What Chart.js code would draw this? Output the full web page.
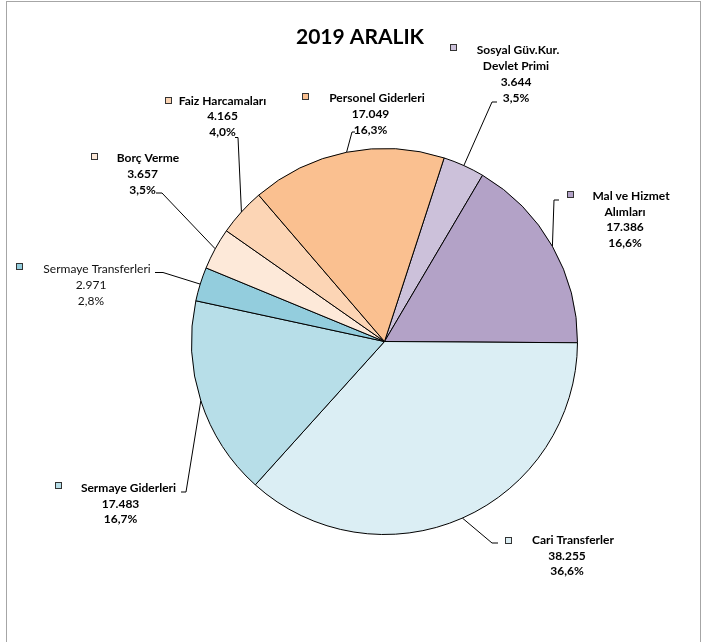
<!DOCTYPE html>
<html><head><meta charset="utf-8">
<script src="https://cdn.jsdelivr.net/npm/chart.js@4.4.1/dist/chart.umd.min.js"></script>
<style>html,body{margin:0;padding:0;background:#fff;}canvas{display:block;}</style>
</head><body>
<canvas id="c" width="706" height="642"></canvas>
<script>
const chartTitle = '2019 ARALIK';
const categories = ['Sosyal Güv.Kur. Devlet Primi','Mal ve Hizmet Alımları','Cari Transferler','Sermaye Giderleri','Sermaye Transferleri','Borç Verme','Faiz Harcamaları','Personel Giderleri'];
const nameLines = [['Sosyal Güv.Kur.','Devlet Primi'],['Mal ve Hizmet','Alımları'],['Cari Transferler'],['Sermaye Giderleri'],['Sermaye Transferleri'],['Borç Verme'],['Faiz Harcamaları'],['Personel Giderleri']];
const values = [3644, 17386, 38255, 17483, 2971, 3657, 4165, 17049];
const valueLabels = ['3.644','17.386','38.255','17.483','2.971','3.657','4.165','17.049'];
const percentLabels = ['3,5%','16,6%','36,6%','16,7%','2,8%','3,5%','4,0%','16,3%'];
const colors = ['#ccc1da','#b3a2c7','#dbeef4','#b7dee8','#93cddd','#fde9d9','#fcd5b5','#fac090'];

// label placement (layout only)
const labelLayout = [
  {x1:518, x:516, y0:50.5, key:[453.5,47], path:[[497,102],[492,102]], bold:true},
  {x1:631, x:625, y0:196, key:[570,194.5], path:[[559,200],[554,200]], bold:true},
  {x1:573, x:567, y0:540, key:[508.5,540], path:[[498,543],[492,543]], bold:true},
  {x1:128.5, x:120.5, y0:488, key:[58.5,485.5], path:[[181,492],[186,492]], bold:true},
  {x1:97, x:91, y0:269.5, key:[19.5,266.5], path:[[155,272.5],[163,272.5]], bold:false},
  {x1:148, x:142.5, y0:158.3, key:[94.5,156.5], path:[[156,193],[162,193]], bold:true},
  {x1:222.5, x:222.5, y0:100.7, key:[168.5,100.5], path:[[235,137.5],[238,137.5]], bold:true},
  {x1:377, x:370.5, y0:98.3, key:[305.5,96.5], path:[[355,132],[352,132]], bold:true}
];
const FONT = 'Lato';
const LINE = 15.8;

const labelPlugin = {
  id:'labels',
  beforeDraw(chart){
    const c = chart.ctx;
    c.save();
    c.fillStyle='#fff'; c.fillRect(0,0,chart.width,chart.height);
    c.strokeStyle='#a6a6a6'; c.lineWidth=1;
    c.strokeRect(6.5,1.5,694,700);
    c.restore();
  },
  afterDraw(chart){
    const c = chart.ctx;
    c.save();
    c.fillStyle='#000'; c.textAlign='center'; c.textBaseline='middle';
    c.font = 'bold 21px '+FONT;
    c.fillText(chartTitle, 360, 37);
    const meta = chart.getDatasetMeta(0);
    meta.data.forEach((arc,i)=>{
      const L = labelLayout[i];
      const mid = (arc.startAngle+arc.endAngle)/2;
      const ex = arc.x + Math.cos(mid)*arc.outerRadius;
      const ey = arc.y + Math.sin(mid)*arc.outerRadius;
      c.strokeStyle='#000'; c.lineWidth=1;
      c.beginPath(); c.moveTo(ex,ey);
      const pts = L.path.slice().reverse();
      pts.forEach(p=>c.lineTo(p[0],p[1]));
      c.stroke();
      // legend key
      const s=7;
      const kx=Math.round(L.key[0]-s/2), ky=Math.round(L.key[1]-s/2);
      c.fillStyle=colors[i];
      c.fillRect(kx, ky, s, s);
      c.strokeStyle='#333';
      c.strokeRect(kx+0.5, ky+0.5, s-1, s-1);
      // text
      c.fillStyle = L.bold ? '#000' : '#111';
      c.font = (L.bold?'bold ':'')+'12px '+FONT;
      const lines = nameLines[i].concat([valueLabels[i], percentLabels[i]]);
      lines.forEach((t,k)=>{
        c.fillText(t, k===0?L.x1:L.x, L.y0 + k*LINE);
      });
    });
    c.restore();
  }
};

new Chart(document.getElementById('c'), {
  type:'pie',
  data:{labels:categories, datasets:[{data:values, backgroundColor:colors, borderColor:'#000', borderWidth:1, hoverOffset:0}]},
  options:{
    responsive:false, animation:false, events:[], rotation:18,
    layout:{padding:{left:191,right:128,top:148,bottom:107}},
    plugins:{legend:{display:false}, tooltip:{enabled:false}, title:{display:false}}
  },
  plugins:[labelPlugin]
});
</script>
</body></html>
